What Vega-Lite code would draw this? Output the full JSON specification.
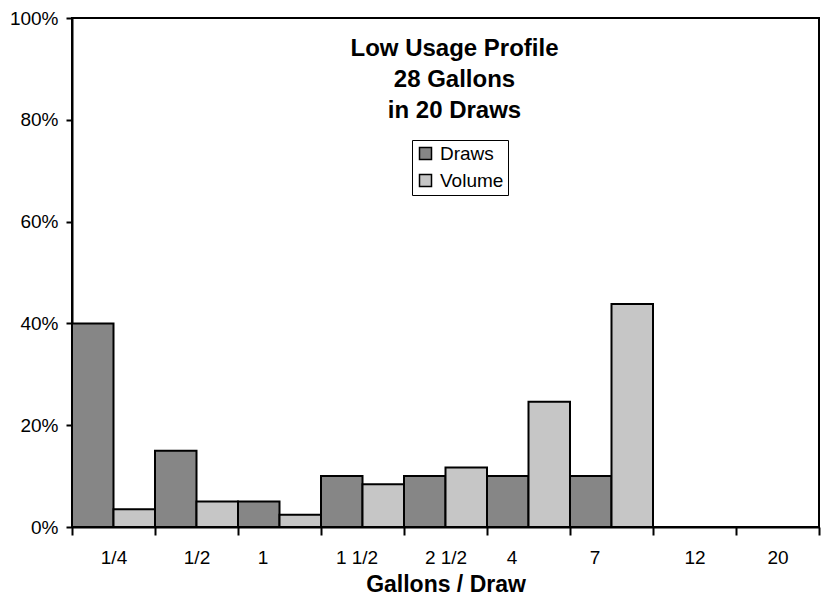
{
  "$schema": "https://vega.github.io/schema/vega-lite/v6.json",
  "width": 747,
  "height": 509,
  "autosize": {"type": "none"},
  "padding": {"left": 72, "top": 18, "right": 7, "bottom": 75},
  "background": "white",
  "config": {
    "font": "Liberation Sans",
    "view": {"stroke": "black", "strokeWidth": 2}
  },
  "title": {
    "text": ["Low Usage Profile", "28 Gallons", "in 20 Draws"],
    "fontSize": 24,
    "fontWeight": "bold",
    "color": "black",
    "anchor": "middle",
    "frame": "group",
    "lineHeight": 31,
    "offset": -114,
    "dx": 9
  },
  "data": {
    "values": [
      {"gallons": "1/4", "series": "Draws", "share": 0.40},
      {"gallons": "1/4", "series": "Volume", "share": 0.035},
      {"gallons": "1/2", "series": "Draws", "share": 0.15},
      {"gallons": "1/2", "series": "Volume", "share": 0.05},
      {"gallons": "1", "series": "Draws", "share": 0.05},
      {"gallons": "1", "series": "Volume", "share": 0.024},
      {"gallons": "1 1/2", "series": "Draws", "share": 0.10},
      {"gallons": "1 1/2", "series": "Volume", "share": 0.084},
      {"gallons": "2 1/2", "series": "Draws", "share": 0.10},
      {"gallons": "2 1/2", "series": "Volume", "share": 0.117},
      {"gallons": "4", "series": "Draws", "share": 0.10},
      {"gallons": "4", "series": "Volume", "share": 0.246},
      {"gallons": "7", "series": "Draws", "share": 0.10},
      {"gallons": "7", "series": "Volume", "share": 0.438},
      {"gallons": "12", "series": "Draws", "share": 0},
      {"gallons": "12", "series": "Volume", "share": 0},
      {"gallons": "20", "series": "Draws", "share": 0},
      {"gallons": "20", "series": "Volume", "share": 0}
    ]
  },
  "mark": {"type": "bar", "stroke": "black", "strokeWidth": 2},
  "encoding": {
    "x": {
      "field": "gallons",
      "type": "nominal",
      "sort": ["1/4", "1/2", "1", "1 1/2", "2 1/2", "4", "7", "12", "20"],
      "scale": {"paddingInner": 0, "paddingOuter": 0},
      "axis": {
        "title": "Gallons / Draw",
        "titleFontSize": 23,
        "titleFontWeight": "bold",
        "titleColor": "black",
        "titlePadding": 6,
        "labelFontSize": 19,
        "labelColor": "black",
        "labelAngle": 0,
        "labelPadding": 13,
        "labelOffset": {
          "condition": [
            {"test": "datum.label == '1' || datum.label == '4' || datum.label == '7'", "value": -17},
            {"test": "datum.label == '1 1/2'", "value": -6}
          ],
          "value": 0
        },
        "tickBand": "extent",
        "tickSize": 8,
        "tickWidth": 2,
        "tickColor": "black",
        "domainColor": "black",
        "domainWidth": 2,
        "grid": false
      }
    },
    "xOffset": {
      "field": "series",
      "sort": ["Draws", "Volume"],
      "scale": {"paddingInner": 0, "paddingOuter": 0}
    },
    "y": {
      "field": "share",
      "type": "quantitative",
      "scale": {"domain": [0, 1]},
      "axis": {
        "values": [0, 0.2, 0.4, 0.6, 0.8, 1],
        "format": ".0%",
        "title": null,
        "labelFontSize": 19,
        "labelColor": "black",
        "labelPadding": 8,
        "tickSize": 6,
        "tickWidth": 2,
        "tickColor": "black",
        "domainColor": "black",
        "domainWidth": 2,
        "grid": false
      }
    },
    "color": {
      "field": "series",
      "type": "nominal",
      "scale": {"domain": ["Draws", "Volume"], "range": ["#868686", "#c6c6c6"]},
      "legend": {
        "title": null,
        "orient": "none",
        "legendX": 340,
        "legendY": 122,
        "strokeColor": "black",
        "fillColor": "white",
        "padding": 4,
        "labelFontSize": 19,
        "labelColor": "black",
        "labelOffset": 5,
        "symbolType": "square",
        "symbolSize": 144,
        "symbolStrokeColor": "black",
        "symbolStrokeWidth": 1.5,
        "rowPadding": 7
      }
    }
  }
}
